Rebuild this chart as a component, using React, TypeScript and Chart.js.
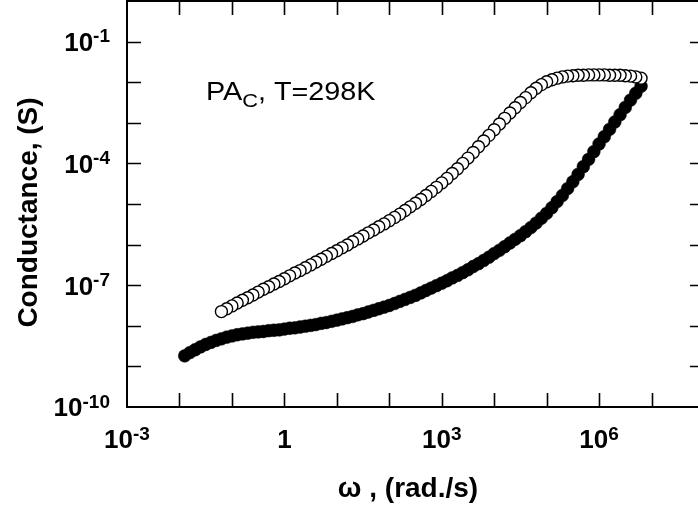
import React, { useEffect, useRef } from "react";
import { Chart, registerables } from "chart.js";

Chart.register(...registerables);

// log10(omega) and log10(conductance) for the open-circle series (PA_C, 298 K)
const openLogOmega = [
  -1.2, -1.1, -1.0, -0.9, -0.8, -0.7, -0.6, -0.5, -0.4, -0.3,
  -0.2, -0.1, 0.0, 0.1, 0.2, 0.3, 0.4, 0.5, 0.6, 0.7,
  0.8, 0.9, 1.0, 1.1, 1.2, 1.3, 1.4, 1.5, 1.6, 1.7,
  1.8, 1.9, 2.0, 2.1, 2.2, 2.3, 2.4, 2.5, 2.6, 2.7,
  2.8, 2.9, 3.0, 3.1, 3.2, 3.3, 3.4, 3.5, 3.6, 3.7,
  3.8, 3.9, 4.0, 4.1, 4.2, 4.3, 4.4, 4.5, 4.6, 4.7,
  4.8, 4.9, 5.0, 5.1, 5.2, 5.3, 5.4, 5.5, 5.6, 5.7,
  5.8, 5.9, 6.0, 6.1, 6.2, 6.3, 6.4, 6.5, 6.6, 6.7,
  6.8,
];
const openLogG = [
  -7.65, -7.58, -7.51, -7.44, -7.37, -7.31, -7.24, -7.17, -7.10, -7.04,
  -6.97, -6.91, -6.84, -6.77, -6.70, -6.64, -6.57, -6.50, -6.43, -6.36,
  -6.29, -6.22, -6.15, -6.08, -6.01, -5.93, -5.86, -5.79, -5.71, -5.64,
  -5.56, -5.49, -5.41, -5.33, -5.25, -5.16, -5.07, -4.98, -4.89, -4.79,
  -4.69, -4.59, -4.48, -4.37, -4.25, -4.13, -4.00, -3.87, -3.73, -3.59,
  -3.45, -3.31, -3.17, -3.03, -2.89, -2.76, -2.63, -2.50, -2.38, -2.26,
  -2.15, -2.06, -1.99, -1.94, -1.90, -1.87, -1.85, -1.84, -1.83, -1.83,
  -1.82, -1.82, -1.82, -1.82, -1.83, -1.83, -1.83, -1.84, -1.85, -1.87,
  -1.90,
];

// log10(omega) and log10(conductance) for the filled-circle series
const filledLogOmega = [
  -1.9, -1.8, -1.7, -1.6, -1.5, -1.4, -1.3, -1.2, -1.1, -1.0,
  -0.9, -0.8, -0.7, -0.6, -0.5, -0.4, -0.3, -0.2, -0.1, 0.0,
  0.1, 0.2, 0.3, 0.4, 0.5, 0.6, 0.7, 0.8, 0.9, 1.0,
  1.1, 1.2, 1.3, 1.4, 1.5, 1.6, 1.7, 1.8, 1.9, 2.0,
  2.1, 2.2, 2.3, 2.4, 2.5, 2.6, 2.7, 2.8, 2.9, 3.0,
  3.1, 3.2, 3.3, 3.4, 3.5, 3.6, 3.7, 3.8, 3.9, 4.0,
  4.1, 4.2, 4.3, 4.4, 4.5, 4.6, 4.7, 4.8, 4.9, 5.0,
  5.1, 5.2, 5.3, 5.4, 5.5, 5.6, 5.7, 5.8, 5.9, 6.0,
  6.1, 6.2, 6.3, 6.4, 6.5, 6.6, 6.7, 6.8,
];
const filledLogG = [
  -8.74, -8.66, -8.59, -8.52, -8.46, -8.41, -8.36, -8.32, -8.28, -8.25,
  -8.22, -8.20, -8.18, -8.16, -8.15, -8.14, -8.12, -8.11, -8.10, -8.08,
  -8.06, -8.05, -8.03, -8.01, -7.99, -7.97, -7.94, -7.92, -7.89, -7.86,
  -7.83, -7.80, -7.77, -7.73, -7.70, -7.66, -7.62, -7.58, -7.54, -7.50,
  -7.45, -7.40, -7.35, -7.30, -7.25, -7.19, -7.13, -7.07, -7.01, -6.95,
  -6.89, -6.82, -6.76, -6.69, -6.62, -6.54, -6.47, -6.39, -6.31, -6.22,
  -6.14, -6.05, -5.96, -5.87, -5.78, -5.68, -5.58, -5.47, -5.35, -5.23,
  -5.09, -4.94, -4.79, -4.62, -4.45, -4.27, -4.08, -3.90, -3.71, -3.52,
  -3.34, -3.16, -2.98, -2.80, -2.62, -2.44, -2.27, -2.10,
];

const xLabelExps = [-3, 0, 3, 6];
const yLabelExps = [-10, -7, -4, -1];
const xMinorExps = [-2, -1, 0, 1, 2, 3, 4, 5, 6, 7];
const yMinorExps = [-9, -8, -7, -6, -5, -4, -3, -2, -1];
const xTitle = "\u03C9 , (rad./s)";
const yTitle = "Conductance, (S)";
const noteMain = "PA";
const noteSub = "C";
const noteRest = ", T=298K";

const FONT = "'Liberation Sans', Arial, Helvetica, sans-serif";

function drawPow(
  ctx: CanvasRenderingContext2D,
  exp: number,
  x: number,
  cy: number,
  align: "right" | "center"
) {
  const base = exp === 0 ? "1" : "10";
  const sup = exp === 0 ? "" : String(exp);
  ctx.font = `bold 26px ${FONT}`;
  const wb = ctx.measureText(base).width;
  ctx.font = `bold 19px ${FONT}`;
  const ws = sup ? ctx.measureText(sup).width : 0;
  const total = wb + ws;
  const start = align === "right" ? x - total : x - total / 2;
  ctx.textAlign = "left";
  ctx.textBaseline = "alphabetic";
  ctx.font = `bold 26px ${FONT}`;
  ctx.fillText(base, start, cy + 9.3);
  if (sup) {
    ctx.font = `bold 19px ${FONT}`;
    ctx.fillText(sup, start + wb, cy + 0.8);
  }
}

const framePlugin = {
  id: "frameAndLabels",
  afterDraw(chart: any) {
    const { ctx, chartArea: a, scales } = chart;
    const xs = scales.x;
    const ys = scales.y;
    ctx.save();
    ctx.strokeStyle = "#000";
    ctx.fillStyle = "#000";
    ctx.lineWidth = 2;
    ctx.strokeRect(a.left, a.top, a.right - a.left, a.bottom - a.top);
    ctx.lineWidth = 1.6;
    ctx.beginPath();
    for (const e of xMinorExps) {
      const px = Math.round(xs.getPixelForValue(Math.pow(10, e))) + 0.5;
      ctx.moveTo(px, a.bottom);
      ctx.lineTo(px, a.bottom - 14);
      ctx.moveTo(px, a.top);
      ctx.lineTo(px, a.top + 14);
    }
    for (const e of yMinorExps) {
      const py = Math.round(ys.getPixelForValue(Math.pow(10, e))) + 0.5;
      ctx.moveTo(a.left, py);
      ctx.lineTo(a.left + 14, py);
      ctx.moveTo(a.right, py);
      ctx.lineTo(a.right - 14, py);
    }
    ctx.stroke();

    for (const e of yLabelExps) {
      const py = ys.getPixelForValue(Math.pow(10, e));
      drawPow(ctx, e, a.left - 17, py, "right");
    }
    for (const e of xLabelExps) {
      const px = xs.getPixelForValue(Math.pow(10, e));
      drawPow(ctx, e, px, a.bottom + 32, "center");
    }

    // axis titles
    ctx.font = `bold 28px ${FONT}`;
    ctx.textAlign = "center";
    ctx.textBaseline = "alphabetic";
    ctx.fillText(xTitle, 408, 497);
    ctx.save();
    ctx.translate(36.5, 212.5);
    ctx.rotate(-Math.PI / 2);
    ctx.fillText(yTitle, 0, 0);
    ctx.restore();

    // annotation
    ctx.save();
    ctx.translate(206, 99.5);
    ctx.scale(1.15, 1);
    ctx.textAlign = "left";
    ctx.font = `25px ${FONT}`;
    ctx.fillText(noteMain, 0, 0);
    let w = ctx.measureText(noteMain).width;
    ctx.font = `19px ${FONT}`;
    ctx.fillText(noteSub, w, 7);
    w += ctx.measureText(noteSub).width;
    ctx.font = `25px ${FONT}`;
    ctx.fillText(noteRest, w, 0);
    ctx.restore();

    ctx.restore();
  },
};

export default function App() {
  const ref = useRef<HTMLCanvasElement | null>(null);

  useEffect(() => {
    if (!ref.current) return;
    const openPts = openLogOmega
      .map((lw, i) => ({ x: Math.pow(10, lw), y: Math.pow(10, openLogG[i]) }))
      .reverse();
    const filledPts = filledLogOmega
      .map((lw, i) => ({ x: Math.pow(10, lw), y: Math.pow(10, filledLogG[i]) }))
      .reverse();

    const chart = new Chart(ref.current, {
      type: "scatter",
      data: {
        datasets: [
          {
            label: "open",
            data: openPts,
            pointRadius: 6,
            pointBorderWidth: 1.4,
            pointBackgroundColor: "#ffffff",
            pointBorderColor: "#000000",
            showLine: false,
            order: 0,
          },
          {
            label: "filled",
            data: filledPts,
            pointRadius: 6.4,
            pointBorderWidth: 0.5,
            pointBackgroundColor: "#000000",
            pointBorderColor: "#000000",
            showLine: false,
            order: 1,
          },
        ],
      },
      options: {
        responsive: false,
        animation: false,
        maintainAspectRatio: false,
        layout: { autoPadding: false, padding: { left: 0, top: 1, right: 16, bottom: 0 } },
        plugins: {
          legend: { display: false },
          tooltip: { enabled: false },
        },
        scales: {
          x: {
            type: "logarithmic",
            min: 1e-3,
            max: 1e8,
            grid: { display: false },
            border: { display: false },
            ticks: { display: false },
            afterFit: (s: any) => {
              s.height = 102;
            },
          },
          y: {
            type: "logarithmic",
            min: 1e-10,
            max: 1,
            grid: { display: false },
            border: { display: false },
            ticks: { display: false },
            afterFit: (s: any) => {
              s.width = 127;
            },
          },
        },
      },
      plugins: [framePlugin],
    });
    return () => chart.destroy();
  }, []);

  return (
    <div
      style={{
        position: "fixed",
        left: 0,
        top: 0,
        width: 698,
        height: 509,
        overflow: "hidden",
        background: "#fff",
      }}
    >
      <canvas ref={ref} width={720} height={509} style={{ display: "block" }} />
    </div>
  );
}
